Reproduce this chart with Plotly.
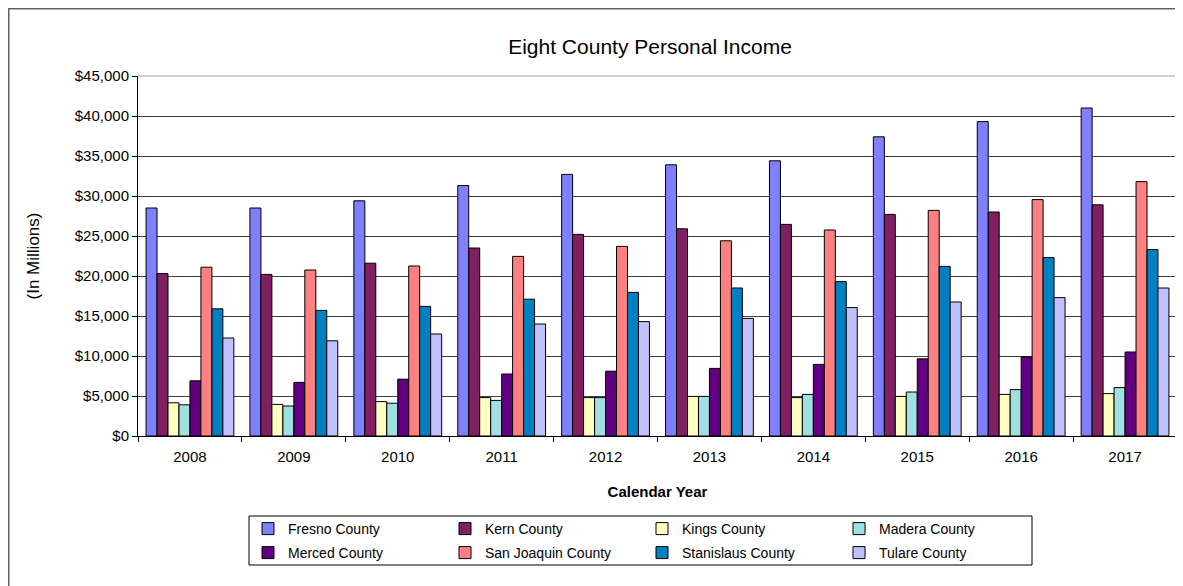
import plotly.graph_objects as go

years = ["2008", "2009", "2010", "2011", "2012", "2013", "2014", "2015", "2016", "2017"]

fresno = [28500, 28500, 29400, 31300, 32700, 33900, 34400, 37400, 39300, 41000]
kern = [20300, 20200, 21600, 23500, 25200, 25900, 26450, 27700, 28000, 28900]
kings = [4150, 3950, 4300, 4800, 4800, 4950, 4800, 4950, 5200, 5300]
madera = [3900, 3750, 4100, 4450, 4800, 4950, 5200, 5500, 5800, 6050]
merced = [6900, 6700, 7100, 7750, 8100, 8450, 8950, 9650, 9900, 10500]
san_joaquin = [21100, 20750, 21250, 22450, 23700, 24400, 25750, 28200, 29550, 31800]
stanislaus = [15900, 15700, 16200, 17100, 17950, 18500, 19300, 21200, 22300, 23300]
tulare = [12250, 11900, 12750, 14000, 14300, 14700, 16050, 16750, 17300, 18500]

series = [
    ("Fresno County", fresno, "#8080FF"),
    ("Kern County", kern, "#802060"),
    ("Kings County", kings, "#FFFFC0"),
    ("Madera County", madera, "#A0E0E0"),
    ("Merced County", merced, "#600080"),
    ("San Joaquin County", san_joaquin, "#FF8080"),
    ("Stanislaus County", stanislaus, "#0080C0"),
    ("Tulare County", tulare, "#C0C0FF"),
]

FONT = "Liberation Sans, Arial, sans-serif"

# figure pixel geometry (page is offset by the 8px body margin)
W, H = 1175, 578
L, T = 130, 68
PR, PB = 1169, 428          # plot right / bottom in figure px
R, B = W - PR, H - PB
PW, PH = PR - L, PB - T

def px(fx):
    return (fx - L) / PW

def py(fy):
    return (PB - fy) / PH

fig = go.Figure()
for i, (name, vals, color) in enumerate(series):
    fig.add_trace(go.Bar(
        name=name, x=years, y=vals,
        marker=dict(color=color, line=dict(color="black", width=1)),
        legend="legend" if i < 4 else "legend2",
    ))

leg_common = dict(orientation="h", xanchor="left", yanchor="middle",
                  entrywidth=152, entrywidthmode="pixels",
                  borderwidth=0, bgcolor="rgba(0,0,0,0)",
                  font=dict(size=14, color="black"), traceorder="normal")

fig.update_layout(
    width=W, height=H,
    margin=dict(l=L, r=R, t=T, b=B, autoexpand=False),
    paper_bgcolor="white", plot_bgcolor="white",
    font=dict(family=FONT, color="black", size=14),
    barmode="group", bargap=0.155, bargroupgap=0,
    title=dict(text="Eight County Personal Income", font=dict(size=21, color="black"),
               x=px(642), xref="paper", xanchor="center",
               y=1 - 39 / H, yref="container", yanchor="middle"),
    showlegend=True,
    legend=dict(x=px(240), y=py(521), **leg_common),
    legend2=dict(x=px(240), y=py(545), **leg_common),
    xaxis=dict(
        type="category", showgrid=False, showline=True, linecolor="black", linewidth=1,
        ticks="outside", tickson="boundaries", ticklen=5, tickcolor="black",
        tickfont=dict(size=15), ticklabelstandoff=7,
        title=dict(text="<b>Calendar Year</b>", font=dict(size=15), standoff=22),
    ),
    yaxis=dict(
        range=[0, 45000], dtick=5000, tickprefix="$", tickformat=",d",
        showgrid=True, gridcolor="#404040", gridwidth=1,
        showline=True, linecolor="black", linewidth=1,
        ticks="outside", ticklen=5, tickcolor="black",
        tickfont=dict(size=15), zeroline=False,
        title=dict(text="(In Millions)", font=dict(size=17), standoff=30),
    ),
    shapes=[
        # outer chart frame
        dict(type="rect", xref="paper", yref="paper",
             x0=px(0.75), x1=1.2, y0=-1.0, y1=py(0.75),
             line=dict(color="#606060", width=1.5), fillcolor="rgba(0,0,0,0)", layer="above"),
        # plot area top and right border
        dict(type="path", xref="paper", yref="paper",
             path="M 0 1 L 1 1 L 1 0", line=dict(color="#A0A0A0", width=1.2), layer="above"),
        # legend box
        dict(type="rect", xref="paper", yref="paper",
             x0=px(241), x1=px(1024), y0=py(557), y1=py(508),
             line=dict(color="black", width=1), fillcolor="rgba(0,0,0,0)", layer="below"),
    ],
)

fig.write_html("out.html")
